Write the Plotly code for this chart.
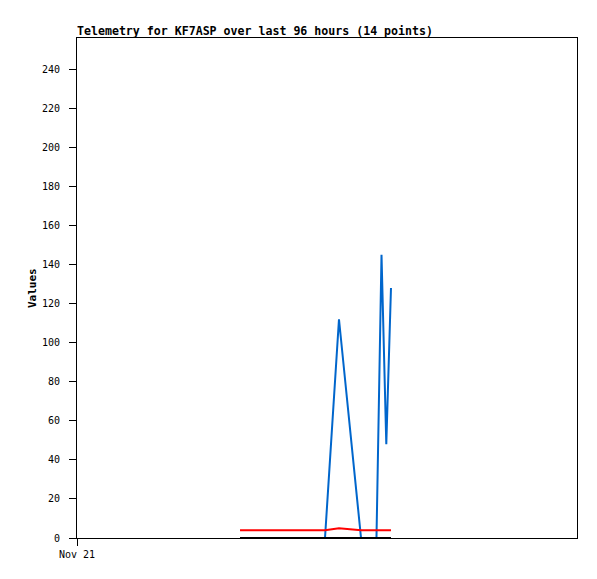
import plotly.graph_objects as go

# Timestamps of the 14 telemetry packets
times = [
    "2023-11-22 07:18", "2023-11-22 09:40", "2023-11-22 11:58", "2023-11-22 14:16",
    "2023-11-22 16:46", "2023-11-22 19:04", "2023-11-22 21:22", "2023-11-22 23:37",
    "2023-11-23 02:18", "2023-11-23 06:32", "2023-11-23 09:30", "2023-11-23 10:28",
    "2023-11-23 11:23", "2023-11-23 12:17",
]
blue_vals = [0, 0, 0, 0, 0, 0, 0, 0, 112, 0, 0, 145, 48, 128]
red_vals = [4, 4, 4, 4, 4, 4, 4, 4, 5, 4, 4, 4, 4, 4]
black_vals = [0] * 14

x_range = ["2023-11-21 00:00", "2023-11-25 00:00"]
y_ticks = [0, 20, 40, 60, 80, 100, 120, 140, 160, 180, 200, 220, 240]
x_tick_vals = ["2023-11-21 00:00"]
x_tick_text = ["Nov 21"]

mono = "DejaVu Sans Mono"

fig = go.Figure()
fig.add_trace(go.Scatter(x=times, y=blue_vals, mode="lines",
                         line=dict(color="#0066CC", width=2), showlegend=False))
fig.add_trace(go.Scatter(x=times, y=red_vals, mode="lines",
                         line=dict(color="#FF0000", width=2), showlegend=False))
fig.add_trace(go.Scatter(x=times, y=black_vals, mode="lines",
                         line=dict(color="#000000", width=2), showlegend=False))

fig.update_layout(
    width=589, height=571,
    margin=dict(l=69, r=20, t=30, b=41),
    paper_bgcolor="white", plot_bgcolor="white",
    font=dict(family=mono, size=10, color="black"),
    xaxis=dict(type="date", range=x_range, tickvals=x_tick_vals, ticktext=x_tick_text,
               showgrid=False, zeroline=False, showline=True, linecolor="black",
               linewidth=1, mirror=True, ticks="outside", ticklen=7, tickcolor="black",
               tickfont=dict(family=mono, size=10), automargin=False),
    yaxis=dict(range=[0, 256], tickvals=y_ticks, showgrid=False, zeroline=False,
               showline=True, linecolor="black", linewidth=1, mirror=True,
               ticks="outside", ticklen=7, tickcolor="black", ticklabelstandoff=7,
               tickfont=dict(family=mono, size=10), automargin=False),
    annotations=[
        dict(text="<b>Telemetry for KF7ASP over last 96 hours (14 points)</b>",
             xref="paper", yref="paper", x=0, y=1, xanchor="left", yanchor="bottom",
             yshift=-2, xshift=-2, showarrow=False,
             font=dict(family=mono, size=11.6, color="black")),
        dict(text="<b>Values</b>", xref="paper", yref="paper", x=-0.09, y=0.5,
             xanchor="center", yanchor="middle", textangle=-90, showarrow=False,
             font=dict(family=mono, size=11, color="black")),
    ],
)

fig.write_html("out.html")
